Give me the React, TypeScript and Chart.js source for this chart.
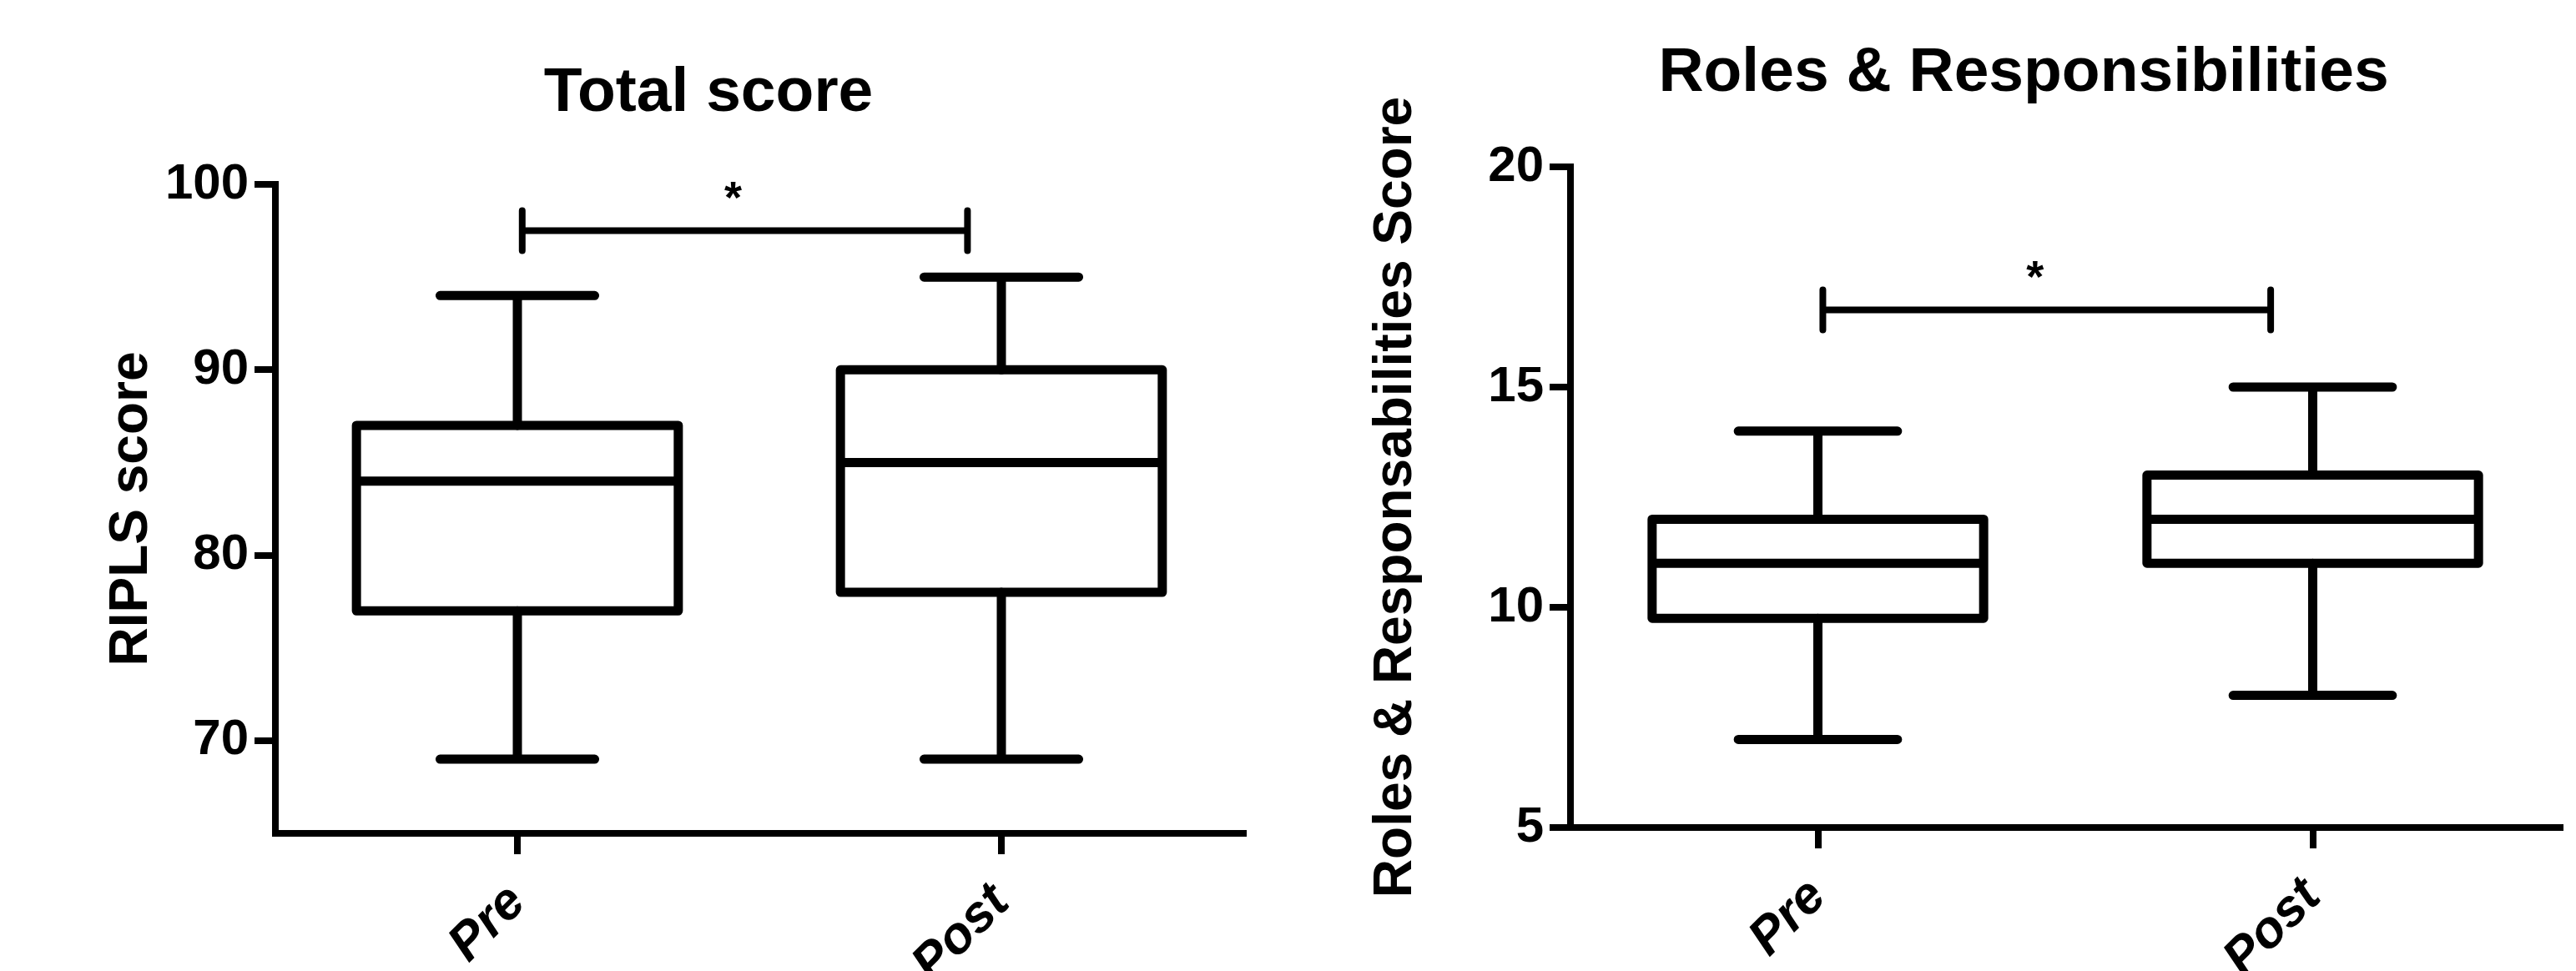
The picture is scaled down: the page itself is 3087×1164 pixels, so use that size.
import React, { useEffect, useRef } from "react";
import { Chart, registerables } from "chart.js";

Chart.register(...registerables);

// ---------- data ----------
const groups = ["Pre", "Post"];

// Total score (RIPLS)
const totalTitle = "Total score";
const totalAxisTitle = "RIPLS score";
const totalMin = [69, 69];
const totalQ1 = [77, 78];
const totalMedian = [84, 85];
const totalQ3 = [87, 90];
const totalMax = [94, 95];
const totalTicks = [70, 80, 90, 100];
const totalRange = [65, 100];
const totalSigLevel = 97.5;
const totalSigSpan = [0.01, 0.93];

// Roles & Responsibilities
const rolesTitle = "Roles & Responsibilities";
const rolesAxisTitle = "Roles & Responsabilities Score";
const rolesMin = [7, 8];
const rolesQ1 = [9.75, 11];
const rolesMedian = [11, 12];
const rolesQ3 = [12, 13];
const rolesMax = [14, 15];
const rolesTicks = [5, 10, 15, 20];
const rolesRange = [5, 20];
const rolesSigLevel = 16.75;
const rolesSigSpan = [0.01, 0.915];

const sigMark = "*";

const FONT = '"Liberation Sans", Arial, Helvetica, sans-serif';

// ---------- plugins ----------
const boxWhiskerPlugin = {
  id: "boxWhisker",
  afterDatasetsDraw(chart: any, _args: any, opts: any) {
    const ctx = chart.ctx;
    const yScale = chart.scales.y;
    const xScale = chart.scales.x;
    const meta = chart.getDatasetMeta(0);
    ctx.save();
    ctx.strokeStyle = "#000";
    ctx.fillStyle = "#000";
    ctx.lineWidth = opts.lineWidth;
    meta.data.forEach((bar: any, i: number) => {
      const cx = bar.x;
      const w = bar.width;
      const left = cx - w / 2;
      const right = cx + w / 2;
      const top = Math.min(bar.y, bar.base);
      const bottom = Math.max(bar.y, bar.base);
      const yMed = yScale.getPixelForValue(opts.median[i]);
      const yMax = yScale.getPixelForValue(opts.max[i]);
      const yMin = yScale.getPixelForValue(opts.min[i]);
      const capHalf = w * 0.24;
      ctx.lineCap = "round";
      ctx.beginPath();
      ctx.moveTo(cx, top);
      ctx.lineTo(cx, yMax);
      ctx.moveTo(cx, bottom);
      ctx.lineTo(cx, yMin);
      ctx.moveTo(cx - capHalf, yMax);
      ctx.lineTo(cx + capHalf, yMax);
      ctx.moveTo(cx - capHalf, yMin);
      ctx.lineTo(cx + capHalf, yMin);
      ctx.stroke();
      ctx.lineCap = "butt";
      ctx.lineJoin = "round";
      ctx.beginPath();
      ctx.rect(left, top, right - left, bottom - top);
      ctx.stroke();
      ctx.beginPath();
      ctx.moveTo(left, yMed);
      ctx.lineTo(right, yMed);
      ctx.stroke();
    });
    // significance bracket
    const ySig = yScale.getPixelForValue(opts.sigLevel);
    const x1 = xScale.getPixelForValue(opts.sigSpan[0]);
    const x2 = xScale.getPixelForValue(opts.sigSpan[1]);
    ctx.lineWidth = opts.bracketWidth;
    ctx.lineCap = "round";
    ctx.beginPath();
    ctx.moveTo(x1, ySig);
    ctx.lineTo(x2, ySig);
    ctx.moveTo(x1, ySig - opts.bracketHalf);
    ctx.lineTo(x1, ySig + opts.bracketHalf);
    ctx.moveTo(x2, ySig - opts.bracketHalf);
    ctx.lineTo(x2, ySig + opts.bracketHalf);
    ctx.stroke();
    ctx.font = `bold ${opts.starSize}px ${FONT}`;
    ctx.textAlign = "center";
    ctx.textBaseline = "alphabetic";
    ctx.fillText(opts.sigText, (x1 + x2) / 2 - 14, ySig - opts.starLift);
    ctx.restore();
  },
};

const headingPlugin = {
  id: "heading",
  afterDraw(chart: any, _args: any, opts: any) {
    const ctx = chart.ctx;
    ctx.save();
    ctx.fillStyle = "#000";
    ctx.font = `bold ${opts.size}px ${FONT}`;
    ctx.textAlign = "center";
    ctx.textBaseline = "alphabetic";
    ctx.fillText(opts.text, opts.x, opts.y);
    ctx.restore();
  },
};

type PanelSpec = {
  title: string;
  axisTitle: string;
  min: number[];
  q1: number[];
  median: number[];
  q3: number[];
  max: number[];
  ticks: number[];
  range: number[];
  sigLevel: number;
  sigSpan: number[];
  width: number;
  padTop: number;
  padRight: number;
  yAxisWidth: number;
  xAxisHeight: number;
  yTitlePad: number;
  barPct: number;
  headX: number;
  headY: number;
};

function buildConfig(p: PanelSpec): any {
  return {
    type: "bar",
    data: {
      labels: groups,
      datasets: [
        {
          data: groups.map((_, i) => [p.q1[i], p.q3[i]]),
          backgroundColor: "rgba(0,0,0,0)",
          borderWidth: 0,
          barPercentage: p.barPct,
          categoryPercentage: 1,
        },
      ],
    },
    options: {
      responsive: false,
      maintainAspectRatio: false,
      animation: false,
      devicePixelRatio: 1,
      layout: { padding: { top: p.padTop, right: p.padRight, bottom: 0, left: 0 } },
      plugins: {
        legend: { display: false },
        tooltip: { enabled: false },
        title: { display: false },
        boxWhisker: {
          min: p.min,
          median: p.median,
          max: p.max,
          lineWidth: 11,
          sigLevel: p.sigLevel,
          sigSpan: p.sigSpan,
          bracketWidth: 8,
          bracketHalf: 24,
          sigText: sigMark,
          starSize: 54,
          starLift: 22,
        },
        heading: { text: p.title, x: p.headX, y: p.headY, size: 75 },
      },
      scales: {
        x: {
          type: "category",
          offset: true,
          grid: {
            display: true,
            drawOnChartArea: false,
            drawTicks: true,
            tickLength: 25,
            lineWidth: 8,
            color: "#000",
            offset: false,
          },
          border: { display: true, width: 8, color: "#000" },
          ticks: {
            color: "#000",
            font: { family: FONT, size: 62, weight: "bold", style: "italic" },
            minRotation: 45,
            maxRotation: 45,
            padding: 22,
          },
          afterFit: (s: any) => {
            s.height = p.xAxisHeight;
          },
        },
        y: {
          type: "linear",
          min: p.range[0],
          max: p.range[1],
          afterBuildTicks: (s: any) => {
            s.ticks = p.ticks.map((v) => ({ value: v }));
          },
          ticks: {
            color: "#000",
            font: { family: FONT, size: 60, weight: "bold" },
            padding: 7,
          },
          grid: {
            display: true,
            drawOnChartArea: false,
            drawTicks: true,
            tickLength: 25,
            lineWidth: 8,
            color: "#000",
          },
          border: { display: true, width: 8, color: "#000" },
          title: {
            display: true,
            text: p.axisTitle,
            color: "#000",
            font: { family: FONT, size: 64, weight: "bold", lineHeight: 1 },
            padding: { top: p.yTitlePad, bottom: 0 },
          },
          afterFit: (s: any) => {
            s.width = p.yAxisWidth;
          },
        },
      },
    },
    plugins: [boxWhiskerPlugin, headingPlugin],
  };
}

const leftSpec: PanelSpec = {
  title: totalTitle,
  axisTitle: totalAxisTitle,
  min: totalMin,
  q1: totalQ1,
  median: totalMedian,
  q3: totalQ3,
  max: totalMax,
  ticks: totalTicks,
  range: totalRange,
  sigLevel: totalSigLevel,
  sigSpan: totalSigSpan,
  width: 1540,
  padTop: 221,
  padRight: 50,
  yAxisWidth: 330,
  xAxisHeight: 165,
  yTitlePad: 126,
  barPct: 0.665,
  headX: 849,
  headY: 133,
};

const rightSpec: PanelSpec = {
  title: rolesTitle,
  axisTitle: rolesAxisTitle,
  min: rolesMin,
  q1: rolesQ1,
  median: rolesMedian,
  q3: rolesQ3,
  max: rolesMax,
  ticks: rolesTicks,
  range: rolesRange,
  sigLevel: rolesSigLevel,
  sigSpan: rolesSigSpan,
  width: 1547,
  padTop: 200,
  padRight: 19,
  yAxisWidth: 342,
  xAxisHeight: 172,
  yTitlePad: 101,
  barPct: 0.67,
  headX: 885,
  headY: 109,
};

function Panel({ spec, left }: { spec: PanelSpec; left: number }) {
  const ref = useRef<HTMLCanvasElement | null>(null);
  useEffect(() => {
    if (!ref.current) return;
    const chart = new Chart(ref.current, buildConfig(spec));
    return () => chart.destroy();
  }, [spec]);
  return (
    <canvas
      ref={ref}
      width={spec.width}
      height={1164}
      style={{ position: "absolute", left, top: 0, width: spec.width, height: 1164 }}
    />
  );
}

export default function App() {
  return (
    <div
      style={{
        position: "fixed",
        left: 0,
        top: 0,
        width: 3087,
        height: 1164,
        background: "#fff",
        overflow: "hidden",
      }}
    >
      <Panel spec={leftSpec} left={0} />
      <Panel spec={rightSpec} left={1540} />
    </div>
  );
}
